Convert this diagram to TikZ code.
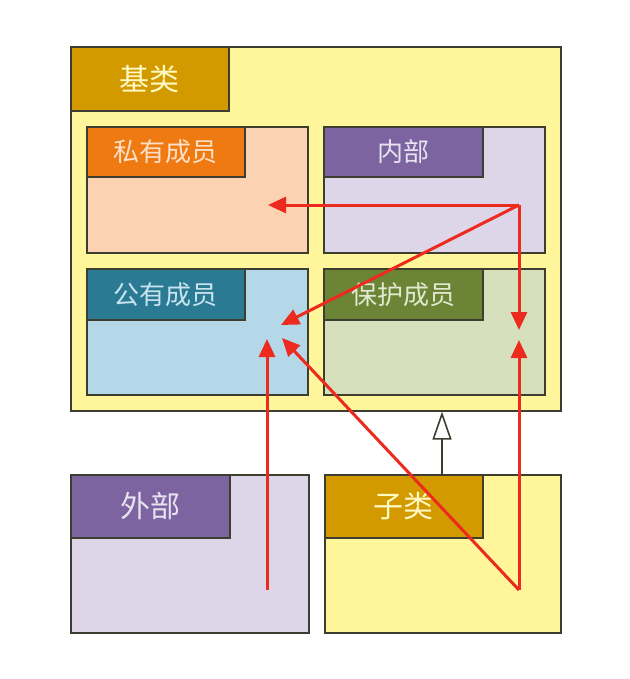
\documentclass[tikz,border=0pt]{standalone}
\usepackage{fontspec}
\newfontfamily\cjk{Noto Sans CJK SC}
\usetikzlibrary{arrows.meta}
\definecolor{boxline}{HTML}{3E3E30}
\definecolor{classbg}{HTML}{FFF59B}
\definecolor{classhd}{HTML}{D39A00}
\definecolor{privbg}{HTML}{FBD3B3}
\definecolor{privhd}{HTML}{F07A12}
\definecolor{innerbg}{HTML}{DDD6E8}
\definecolor{innerhd}{HTML}{7C64A0}
\definecolor{pubbg}{HTML}{B4D8E8}
\definecolor{pubhd}{HTML}{2A7A94}
\definecolor{protbg}{HTML}{D6E0BC}
\definecolor{prothd}{HTML}{6C8436}
\definecolor{accred}{HTML}{EC2A1E}
\begin{document}
\begin{tikzpicture}[x=1pt,y=-1pt,
  box/.style={draw=boxline,line width=1.6pt,anchor=north west,inner sep=0pt},
  head/.style={box,text=#1,font=\cjk\fontsize{26}{26}\selectfont},
  access/.style={draw=accred,line width=3pt,-{Triangle[length=18pt,width=16pt]}}]
  \fill[white] (0,0) rectangle (629,679);
  \useasboundingbox (0,0) rectangle (629,679);
  % base class and its members
  \node[box,fill=classbg,minimum width=490pt,minimum height=364pt] (base) at (70,46) {};
  \node[head=classbg!60!white,fill=classhd,minimum width=158pt,minimum height=64pt,
    font=\cjk\fontsize{30}{30}\selectfont] (basehd) at (70,46) {基类};
  \node[box,fill=privbg,minimum width=221pt,minimum height=126pt] (priv) at (86,126) {};
  \node[head=privbg!70!white,fill=privhd,minimum width=158pt,minimum height=50pt] (privhd) at (86,126) {私有成员};
  \node[box,fill=innerbg,minimum width=221pt,minimum height=126pt] (inner) at (323,126) {};
  \node[head=innerbg!70!white,fill=innerhd,minimum width=159pt,minimum height=50pt] (innerhd) at (323,126) {内部};
  \node[box,fill=pubbg,minimum width=221pt,minimum height=126pt] (pub) at (86,268) {};
  \node[head=pubbg!70!white,fill=pubhd,minimum width=158pt,minimum height=51pt] (pubhd) at (86,268) {公有成员};
  \node[box,fill=protbg,minimum width=221pt,minimum height=126pt] (prot) at (323,268) {};
  \node[head=protbg!70!white,fill=prothd,minimum width=159pt,minimum height=51pt] (prothd) at (323,268) {保护成员};
  % outside and subclass
  \node[box,fill=innerbg,minimum width=238pt,minimum height=158pt] (outer) at (70,474) {};
  \node[head=innerbg!70!white,fill=innerhd,minimum width=159pt,minimum height=63pt,
    font=\cjk\fontsize{30}{30}\selectfont] (outerhd) at (70,474) {外部};
  \node[box,fill=classbg,minimum width=236pt,minimum height=158pt] (sub) at (324,474) {};
  \node[head=classbg!60!white,fill=classhd,minimum width=158pt,minimum height=63pt,
    font=\cjk\fontsize{30}{30}\selectfont] (subhd) at (324,474) {子类};
  % access points
  \coordinate (fromin) at (519,205);
  \coordinate (fromsub) at (519,590);
  \coordinate (fromout) at (267,590);
  \coordinate (topriv) at (268,205);
  \coordinate (topubA) at (281,325);
  \coordinate (topubB) at (282,338);
  \coordinate (topubC) at (267,339);
  \coordinate (toprotA) at (519,330);
  \coordinate (toprotB) at (519,340);
  \draw[access] (fromin) -- (topriv);
  \draw[access] (fromin) -- (topubA);
  \draw[access] (fromin) -- (toprotA);
  \draw[access] (fromsub) -- (toprotB);
  \draw[access] (fromsub) -- (topubB);
  \draw[access] (fromout) -- (topubC);
  % inheritance
  \coordinate (inh) at (442,0);
  \draw[boxline,line width=1.6pt,-{Triangle[open,length=28pt,width=19pt,fill=white]}]
    (sub.north -| inh) -- (base.south -| inh);
\end{tikzpicture}
\end{document}
